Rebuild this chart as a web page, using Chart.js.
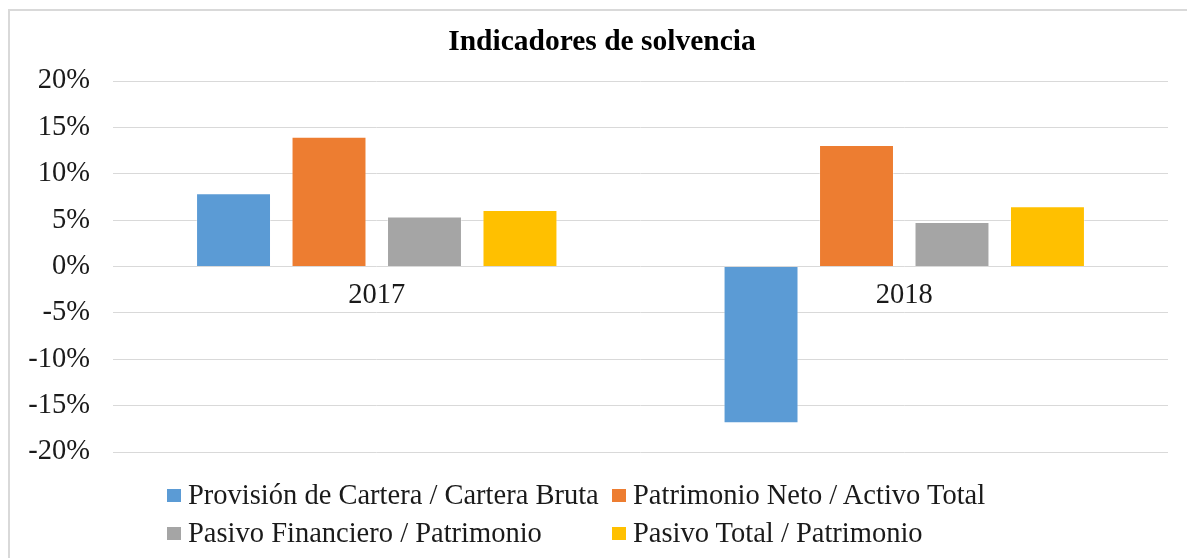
<!DOCTYPE html>
<html lang="es">
<head>
<meta charset="utf-8">
<title>Indicadores de solvencia</title>
<script src="https://cdn.jsdelivr.net/npm/chart.js@4/dist/chart.umd.min.js"></script>
<style>
  html, body { margin: 0; padding: 0; background: #fff; }
  #wrap { position: relative; width: 1187px; height: 558px; overflow: hidden; }
  #frame {
    position: absolute; left: 8px; top: 9px; right: -4px; bottom: -4px;
    border-top: 2px solid #d9d9d9; border-left: 2px solid #d9d9d9;
  }
  #chartBox { position: absolute; left: 0; top: 0; width: 1187px; height: 558px; }
  #title {
    position: absolute; left: 0; top: 23px; width: 1204px; height: 34px; line-height: 34px;
    text-align: center; font-family: "Liberation Serif", "Times New Roman", serif;
    font-size: 29.5px; font-weight: bold; color: #000;
  }
  #legend {
    position: absolute; left: 167px; top: 476px;
    display: grid; grid-template-columns: 445px auto; row-gap: 0;
    font-family: "Liberation Serif", "Times New Roman", serif; font-size: 28.5px; color: #1a1a1a;
  }
  .item { display: flex; align-items: center; height: 38px; white-space: nowrap; }
  .swatch { width: 14px; height: 13px; margin-right: 7px; }
</style>
</head>
<body>
<div id="wrap">
  <div id="frame"></div>
  <div id="chartBox"><canvas id="solvencia"></canvas></div>
  <div id="title">Indicadores de solvencia</div>
  <div id="legend"></div>
</div>
<script>
const years = ["2017", "2018"]
const provisionCartera = [7.9, -16.9]
const patrimonioActivo = [14.0, 13.1]
const pasivoFinanciero = [5.4, 4.8]
const pasivoTotal = [6.1, 6.5]
const yTicks = [-20, -15, -10, -5, 0, 5, 10, 15, 20]

const serif = "'Liberation Serif', 'Times New Roman', serif"

const series = [
  { label: "Provisión de Cartera / Cartera Bruta", data: provisionCartera, color: "#5b9bd5" },
  { label: "Patrimonio Neto / Activo Total", data: patrimonioActivo, color: "#ed7d31" },
  { label: "Pasivo Financiero / Patrimonio", data: pasivoFinanciero, color: "#a5a5a5" },
  { label: "Pasivo Total / Patrimonio", data: pasivoTotal, color: "#ffc000" },
]

const chart = new Chart(document.querySelector("#solvencia"), {
  type: "bar",
  data: {
    labels: years,
    datasets: series.map((s) => ({
      label: s.label,
      data: s.data,
      backgroundColor: s.color,
      borderColor: "rgba(255,255,255,0.35)",
      borderWidth: 1,
      categoryPercentage: 0.724,
      barPercentage: 0.785,
    })),
  },
  options: {
    responsive: true,
    maintainAspectRatio: false,
    animation: false,
    // título y leyenda van en HTML, aquí solo el área de barras
    layout: { padding: { top: 81, right: 19, bottom: 106, left: 0 } },
    plugins: {
      legend: { display: false },
      tooltip: { enabled: false },
      title: { display: false },
    },
    scales: {
      x: {
        position: { y: 0 },
        grid: { display: false, drawTicks: false },
        border: { display: false },
        ticks: { color: "#1a1a1a", font: { family: serif, size: 28.5 }, padding: 12 },
      },
      y: {
        min: yTicks[0],
        max: yTicks[yTicks.length - 1],
        afterBuildTicks: (scale) => {
          scale.ticks = yTicks.map((v) => ({ value: v }))
        },
        afterFit: (scale) => {
          scale.width = 113
        },
        grid: { color: "#d9d9d9", lineWidth: 1, drawTicks: false },
        border: { display: false },
        ticks: {
          color: "#1a1a1a",
          font: { family: serif, size: 28.5 },
          padding: 23,
          callback: (v) => v + "%",
        },
      },
    },
  },
})

// leyenda en dos columnas, como en la hoja original
const legend = document.querySelector("#legend")
chart.data.datasets.forEach((ds) => {
  const item = document.createElement("div")
  item.className = "item"
  const sw = document.createElement("span")
  sw.className = "swatch"
  sw.style.background = ds.backgroundColor
  const txt = document.createElement("span")
  txt.textContent = ds.label
  item.append(sw, txt)
  legend.append(item)
})
</script>
</body>
</html>
